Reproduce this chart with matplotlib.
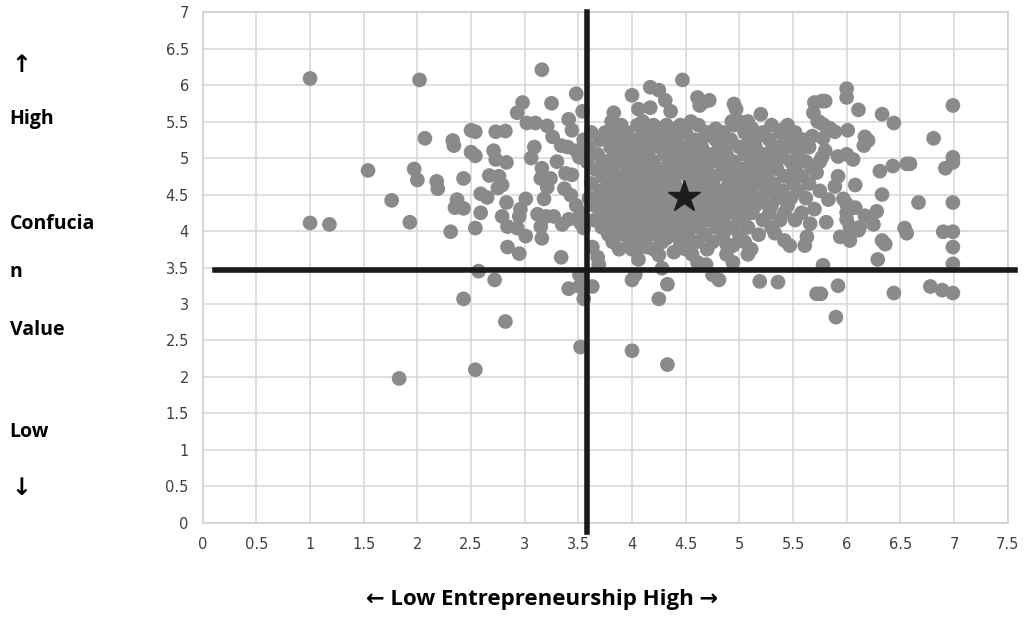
import numpy as np
import matplotlib
matplotlib.use("Agg")
import matplotlib.pyplot as plt

# scattered points (entrepreneurship, confucian value)
left_x = [1.0, 2.02, 1.54, 1.97, 2.0, 1.76, 1.0, 1.18, 1.93, 1.83, 2.07,
          2.18, 2.19, 2.33, 2.34, 2.43, 2.31, 2.35, 2.43, 2.50, 2.54, 2.50, 2.54, 2.54, 2.59, 2.65,
          2.59, 2.57, 2.72, 2.43, 2.82, 2.54, 2.73, 2.82, 2.71, 2.73, 2.83, 2.67, 2.76, 2.79, 2.75,
          2.83, 2.79, 2.84, 2.93, 3.01, 2.84, 2.95, 2.93, 2.98, 3.02, 3.10, 3.09, 3.06, 3.16, 3.25,
          3.21, 3.26, 3.34, 3.16, 3.15, 3.24, 3.21, 3.18, 3.01, 2.96, 2.95, 3.12, 3.20, 3.15, 3.16,
          3.27, 3.35, 3.34, 3.48, 3.54, 3.41, 3.44, 3.40, 3.48, 3.51, 3.38, 3.44, 3.37, 3.43, 3.48,
          3.52, 3.41, 3.52, 3.55, 3.51, 3.41, 3.51, 3.63, 3.55, 3.52, 3.63, 3.68, 3.69, 2.37, 3.30]
left_y = [6.09, 6.07, 4.83, 4.85, 4.70, 4.42, 4.11, 4.09, 4.12, 1.98, 5.27,
          4.68, 4.58, 5.24, 5.17, 4.72, 3.99, 4.32, 4.31, 5.38, 5.36, 5.08, 5.03, 4.04, 4.51, 4.46,
          4.25, 3.45, 3.33, 3.07, 2.76, 2.10, 5.36, 5.37, 5.10, 4.98, 4.94, 4.76, 4.75, 4.63, 4.59,
          4.39, 4.20, 4.06, 4.04, 3.93, 3.78, 3.69, 5.62, 5.76, 5.48, 5.48, 5.15, 5.00, 6.21, 5.75,
          5.44, 5.29, 5.17, 4.86, 4.72, 4.72, 4.60, 4.44, 4.44, 4.30, 4.20, 4.23, 4.20, 4.06, 3.90,
          4.20, 4.09, 3.64, 5.88, 5.64, 5.53, 5.38, 5.15, 5.10, 5.01, 4.79, 4.77, 4.58, 4.49, 4.35,
          4.25, 4.16, 4.11, 4.04, 3.40, 3.21, 3.24, 3.24, 3.07, 2.41, 3.78, 3.64, 3.54, 4.43, 4.95]

mid_x = [4.47, 4.0, 4.17, 4.25, 4.31, 4.36, 4.06, 4.17, 3.83, 3.81, 4.61, 4.66, 4.72, 4.63,
         4.95, 4.97, 4.93, 5.08, 5.20, 5.39, 5.56, 5.56, 5.70, 5.69, 5.73, 4.44,
         4.14, 4.25, 4.39, 4.0, 4.06, 4.28, 4.0, 4.03, 4.33, 4.25, 4.53, 4.56, 4.61, 4.69, 4.75,
         4.81, 4.88, 4.94, 4.88, 4.94, 5.08, 5.11, 5.19, 5.36, 5.33, 5.42, 5.47, 5.63, 5.61,
         5.72, 4.0, 4.33, 5.72, 5.75, 5.70, 5.66, 5.75, 5.68]
mid_y = [6.07, 5.86, 5.97, 5.93, 5.79, 5.64, 5.67, 5.69, 5.62, 5.50, 5.83, 5.76, 5.79, 5.72,
         5.74, 5.67, 5.50, 5.50, 5.60, 5.38, 5.24, 5.15, 5.76, 5.62, 5.50, 5.17,
         3.78, 3.67, 3.71, 3.75, 3.61, 3.49, 3.33, 3.40, 3.27, 3.07, 3.82, 3.68, 3.57, 3.54, 3.40,
         3.33, 3.82, 3.80, 3.68, 3.57, 3.68, 3.75, 3.31, 3.30, 3.97, 3.87, 3.80, 3.92, 3.80,
         3.14, 2.36, 2.17, 4.80, 4.55, 4.30, 4.10, 4.95, 5.30]

right_x = [6.0, 6.0, 5.77, 5.80, 6.11, 6.33, 6.44, 6.99, 5.74, 5.78, 5.84, 5.89, 6.01, 5.78,
           6.17, 6.16, 6.20, 6.81, 5.80, 5.77, 5.92, 6.0, 6.06, 6.31, 6.43, 6.56, 6.59, 6.99,
           6.99, 6.92, 5.92, 5.89, 6.08, 5.97, 6.0, 6.08, 5.83, 6.33, 6.67, 6.99, 5.81, 6.28,
           6.17, 6.25, 6.12, 6.11, 6.0, 6.0, 6.03, 6.06, 5.94, 6.03, 6.54, 6.56, 6.33, 6.36,
           6.90, 6.99, 6.99, 6.29, 6.99, 5.78, 5.92, 5.76, 5.90, 6.44, 6.78, 6.89, 6.99]
right_y = [5.95, 5.83, 5.78, 5.78, 5.66, 5.60, 5.48, 5.72, 5.50, 5.46, 5.41, 5.36, 5.38, 5.27,
           5.29, 5.17, 5.24, 5.27, 5.10, 5.01, 5.02, 5.05, 4.98, 4.82, 4.89, 4.92, 4.92, 5.01,
           4.94, 4.86, 4.75, 4.61, 4.63, 4.44, 4.37, 4.32, 4.43, 4.50, 4.39, 4.39, 4.12, 4.27,
           4.21, 4.09, 4.05, 4.01, 4.25, 4.16, 4.06, 4.00, 3.92, 3.87, 4.04, 3.97, 3.87, 3.82,
           3.99, 3.99, 3.78, 3.61, 3.55, 3.53, 3.25, 3.14, 2.82, 3.15, 3.24, 3.19, 3.15]

# the dense middle cluster, estimated row by row
core_y = [5.45, 5.35, 5.25, 5.15, 5.05, 4.95, 4.85, 4.75, 4.65, 4.55, 4.45, 4.35, 4.25,
          4.15, 4.05, 3.95, 3.85, 3.75]
core_x = [
    [3.90, 4.05, 4.20, 4.32, 4.45, 4.62, 4.95, 5.30, 5.45],
    [3.62, 3.75, 3.95, 4.12, 4.28, 4.50, 4.70, 4.85, 5.05, 5.22, 5.38, 5.52],
    [3.55, 3.70, 3.88, 4.02, 4.18, 4.40, 4.58, 4.78, 4.92, 5.10, 5.28, 5.45, 5.60],
    [3.60, 3.80, 3.95, 4.10, 4.25, 4.48, 4.65, 4.82, 5.00, 5.15, 5.35, 5.50, 5.65],
    [3.68, 3.85, 4.00, 4.15, 4.30, 4.42, 4.55, 4.72, 4.88, 5.05, 5.22, 5.40, 5.55],
    [3.58, 3.75, 3.92, 4.08, 4.20, 4.35, 4.62, 4.80, 4.95, 5.12, 5.30, 5.48, 5.62],
    [3.65, 3.82, 3.98, 4.12, 4.28, 4.45, 4.70, 4.85, 5.02, 5.18, 5.35, 5.52, 5.68],
    [3.72, 3.88, 4.05, 4.18, 4.32, 4.52, 4.68, 4.78, 4.92, 5.08, 5.25, 5.42, 5.58],
    [3.62, 3.78, 3.95, 4.10, 4.25, 4.40, 4.60, 4.75, 4.90, 5.00, 5.15, 5.32, 5.50, 5.65],
    [3.70, 3.85, 4.02, 4.15, 4.30, 4.45, 4.65, 4.82, 4.97, 5.10, 5.25, 5.40, 5.55],
    [3.60, 3.78, 3.92, 4.08, 4.22, 4.35, 4.62, 4.78, 4.92, 5.05, 5.20, 5.35, 5.48, 5.62],
    [3.65, 3.82, 3.98, 4.12, 4.28, 4.42, 4.58, 4.72, 4.88, 5.02, 5.15, 5.30, 5.45],
    [3.72, 3.88, 4.02, 4.18, 4.32, 4.48, 4.65, 4.80, 4.95, 5.12, 5.28, 5.42, 5.58],
    [3.65, 3.80, 3.95, 4.10, 4.25, 4.40, 4.55, 4.70, 4.85, 5.00, 5.22, 5.38, 5.52],
    [3.72, 3.88, 4.02, 4.15, 4.30, 4.45, 4.62, 4.78, 4.92, 5.08, 5.30],
    [3.78, 3.92, 4.08, 4.22, 4.38, 4.52, 4.68, 4.85, 5.00, 5.18],
    [3.82, 3.98, 4.12, 4.28, 4.45, 4.60, 4.75, 5.05],
    [3.88, 4.05, 4.20, 4.50, 4.70],
]
# in-between points that thicken the middle of the cluster
fill_y = [5.50, 5.40, 5.30, 5.20, 5.10, 5.00, 4.90, 4.80, 4.70, 4.60, 4.50, 4.40, 4.30,
          4.20, 4.10, 4.00, 3.90]
fill_x = [
    [4.10, 4.55, 5.00],
    [3.85, 4.20, 4.38, 4.78, 5.12],
    [3.80, 4.10, 4.30, 4.68, 4.85, 5.18],
    [3.88, 4.18, 4.35, 4.55, 4.90, 5.08, 5.42],
    [3.92, 4.08, 4.38, 4.62, 4.80, 5.12, 5.30],
    [3.82, 4.00, 4.15, 4.50, 4.70, 4.88, 5.20, 5.38],
    [3.72, 4.05, 4.20, 4.38, 4.55, 4.92, 5.10, 5.28],
    [3.80, 3.95, 4.12, 4.42, 4.60, 4.85, 5.00, 5.15, 5.50],
    [3.85, 4.02, 4.18, 4.35, 4.68, 4.98, 5.08, 5.22],
    [3.78, 3.95, 4.22, 4.38, 4.55, 4.90, 5.05, 5.32],
    [3.85, 4.00, 4.15, 4.70, 4.85, 5.00, 5.12],
    [3.72, 4.05, 4.18, 4.35, 4.50, 4.65, 4.95, 5.22],
    [3.78, 3.92, 4.08, 4.38, 4.55, 4.85, 5.08],
    [3.82, 3.98, 4.12, 4.28, 4.60, 4.75, 5.05],
    [3.90, 4.05, 4.20, 4.35, 4.52, 4.82],
    [3.82, 3.98, 4.28, 4.42],
    [4.02, 4.32],
]

mean_point = (4.48, 4.47)
cut_x = 3.58
cut_y = 3.46
ticks_x = np.arange(0, 7.51, 0.5)
ticks_y = np.arange(0, 7.01, 0.5)
side_labels = ["\u2191", "High", "Confucia", "n", "Value", "Low", "\u2193"]
side_pos = [6.28, 5.54, 4.09, 3.44, 2.64, 1.24, 0.48]

fig = plt.figure(figsize=(10.24, 6.17), dpi=100)
ax = fig.add_axes([0.198, 0.1524, 0.786, 0.8281])

xs = left_x + mid_x + right_x
ys = left_y + mid_y + right_y
for y, row in list(zip(core_y, core_x)) + list(zip(fill_y, fill_x)):
    xs += row
    ys += [y] * len(row)

ax.scatter(xs, ys, s=112, color="#8a8a8a", edgecolors="none", zorder=3)
ax.plot(*mean_point, marker="*", markersize=24, color="#1c1c1c", zorder=5)

ax.plot([cut_x, cut_x], [-0.12, 7.0], color="#1a1a1a", lw=4, zorder=4, clip_on=False)
ax.plot([0.11, 7.57], [cut_y, cut_y], color="#1a1a1a", lw=4, zorder=4, clip_on=False)

ax.set_xlim(0, 7.5)
ax.set_ylim(0, 7)
ax.set_xticks(ticks_x)
ax.set_yticks(ticks_y)
ax.set_xticklabels(["%g" % t for t in ticks_x])
ax.set_yticklabels(["%g" % t for t in ticks_y])
ax.tick_params(length=0, labelsize=10.5, labelcolor="#404040", pad=10)
ax.grid(True, color="#d9d9d9", lw=1.2, zorder=0)
for sp in ax.spines.values():
    sp.set_color("#d0d0d0")
    sp.set_linewidth(1.2)

for lab, pos in zip(side_labels, side_pos):
    if lab in ("\u2191", "\u2193"):
        ax.text(-1.78, pos, lab, ha="left", va="center", fontsize=17,
                fontweight="bold", family="DejaVu Sans")
    else:
        ax.text(-1.8, pos, lab, ha="left", va="center", fontsize=14,
                fontweight="bold", family=["Open Sans", "DejaVu Sans"])

fig.text(0.529, 0.028, "\u2190 Low Entrepreneurship High \u2192", ha="center", va="center",
         fontsize=16, fontweight="bold", family=["Liberation Sans Narrow", "Open Sans", "DejaVu Sans"])

fig.savefig("out.png", dpi=100)
